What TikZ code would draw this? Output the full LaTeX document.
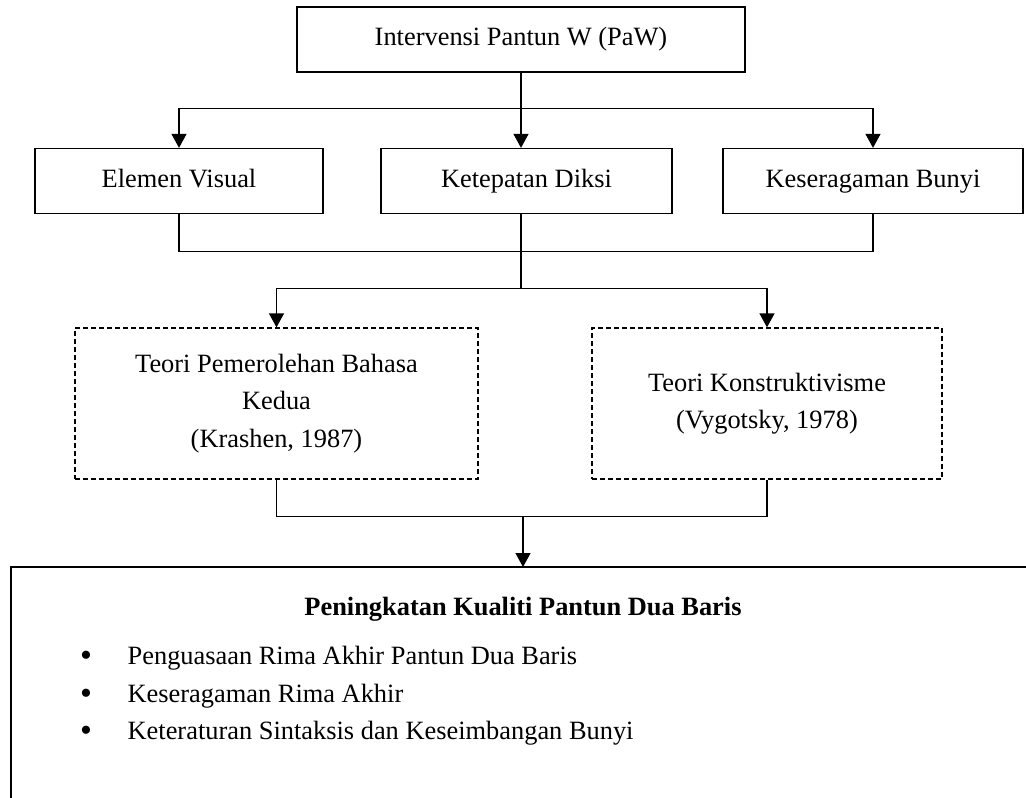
\documentclass[tikz,border=0pt]{standalone}
\usepackage{fontspec}
\setmainfont{Liberation Serif}
\usetikzlibrary{arrows.meta}

\begin{document}
\begin{tikzpicture}[x=1pt,y=-1pt,
		font=\fontsize{26.4}{37.5}\selectfont,
		line width=1.3pt,
		box/.style={draw, minimum height=65pt, text height=18pt, text depth=6pt, inner sep=0pt},
		teori/.style={draw, dash pattern=on 5pt off 3pt, minimum height=151pt, align=center, inner sep=0pt},
		titik/.style={font=\fontsize{34}{34}\selectfont, inner sep=0pt},
		arr/.style={-{Triangle[width=15pt,length=14pt]}}]
		\useasboundingbox (0,0) rectangle (1026,798);
		\node[box, minimum width=448pt] (paw) at (521,39.5) {Intervensi Pantun W (PaW)};
		\node[box, minimum width=288pt] (ev) at (179,181) {Elemen Visual};
		\node[box, minimum width=291pt] (kd) at (526.5,181) {Ketepatan Diksi};
		\node[box, minimum width=300pt] (kb) at (873,181) {Keseragaman Bunyi};
		\node[teori, minimum width=403pt] (spb) at (276.5,403.5) {Teori Pemerolehan Bahasa\\Kedua\\(Krashen, 1987)};
		\node[teori, minimum width=350pt] (tk) at (767,403.5) {Teori Konstruktivisme\\(Vygotsky, 1978)};
		\draw (paw.south) -- ++(0,36) coordinate (s1);
		\draw[arr] (s1) -| (ev.north);
		\draw[arr] (s1) -| (kb.north);
		\draw[arr] (s1) -- (s1 |- kd.north);
		\draw (ev.south) -- ++(0,37) coordinate (j1) -| (kb.south);
		\draw (s1 |- kd.south) -- ++(0,74) coordinate (s2);
		\draw[arr] (s2) -| (spb.north);
		\draw[arr] (s2) -| (tk.north);
		\draw (spb.south) -- ++(0,37) coordinate (j2) -| (tk.south);
		% kotak hasil, terpotong di tepi kanan dan bawah
		\draw[line width=1.6pt] (11,820) |- (1040,567);
		\coordinate (kq) at (523,567);
		\draw[arr] (kq |- j2) -- (kq);
		\node[font=\fontsize{26.4}{37.5}\selectfont\bfseries] (judul) at (523,609) {Peningkatan Kualiti Pantun Dua Baris};
		\node[titik] (t1) at (86,659) {\textbullet};
		\node[anchor=west, inner sep=0pt] (b1) at (127,658) {Penguasaan Rima Akhir Pantun Dua Baris};
		\node[titik] (t2) at (86,697) {\textbullet};
		\node[anchor=west, inner sep=0pt] (b2) at (127,696) {Keseragaman Rima Akhir};
		\node[titik] (t3) at (86,734) {\textbullet};
		\node[anchor=west, inner sep=0pt] (b3) at (127,733) {Keteraturan Sintaksis dan Keseimbangan Bunyi};
	\end{tikzpicture}
\end{document}
